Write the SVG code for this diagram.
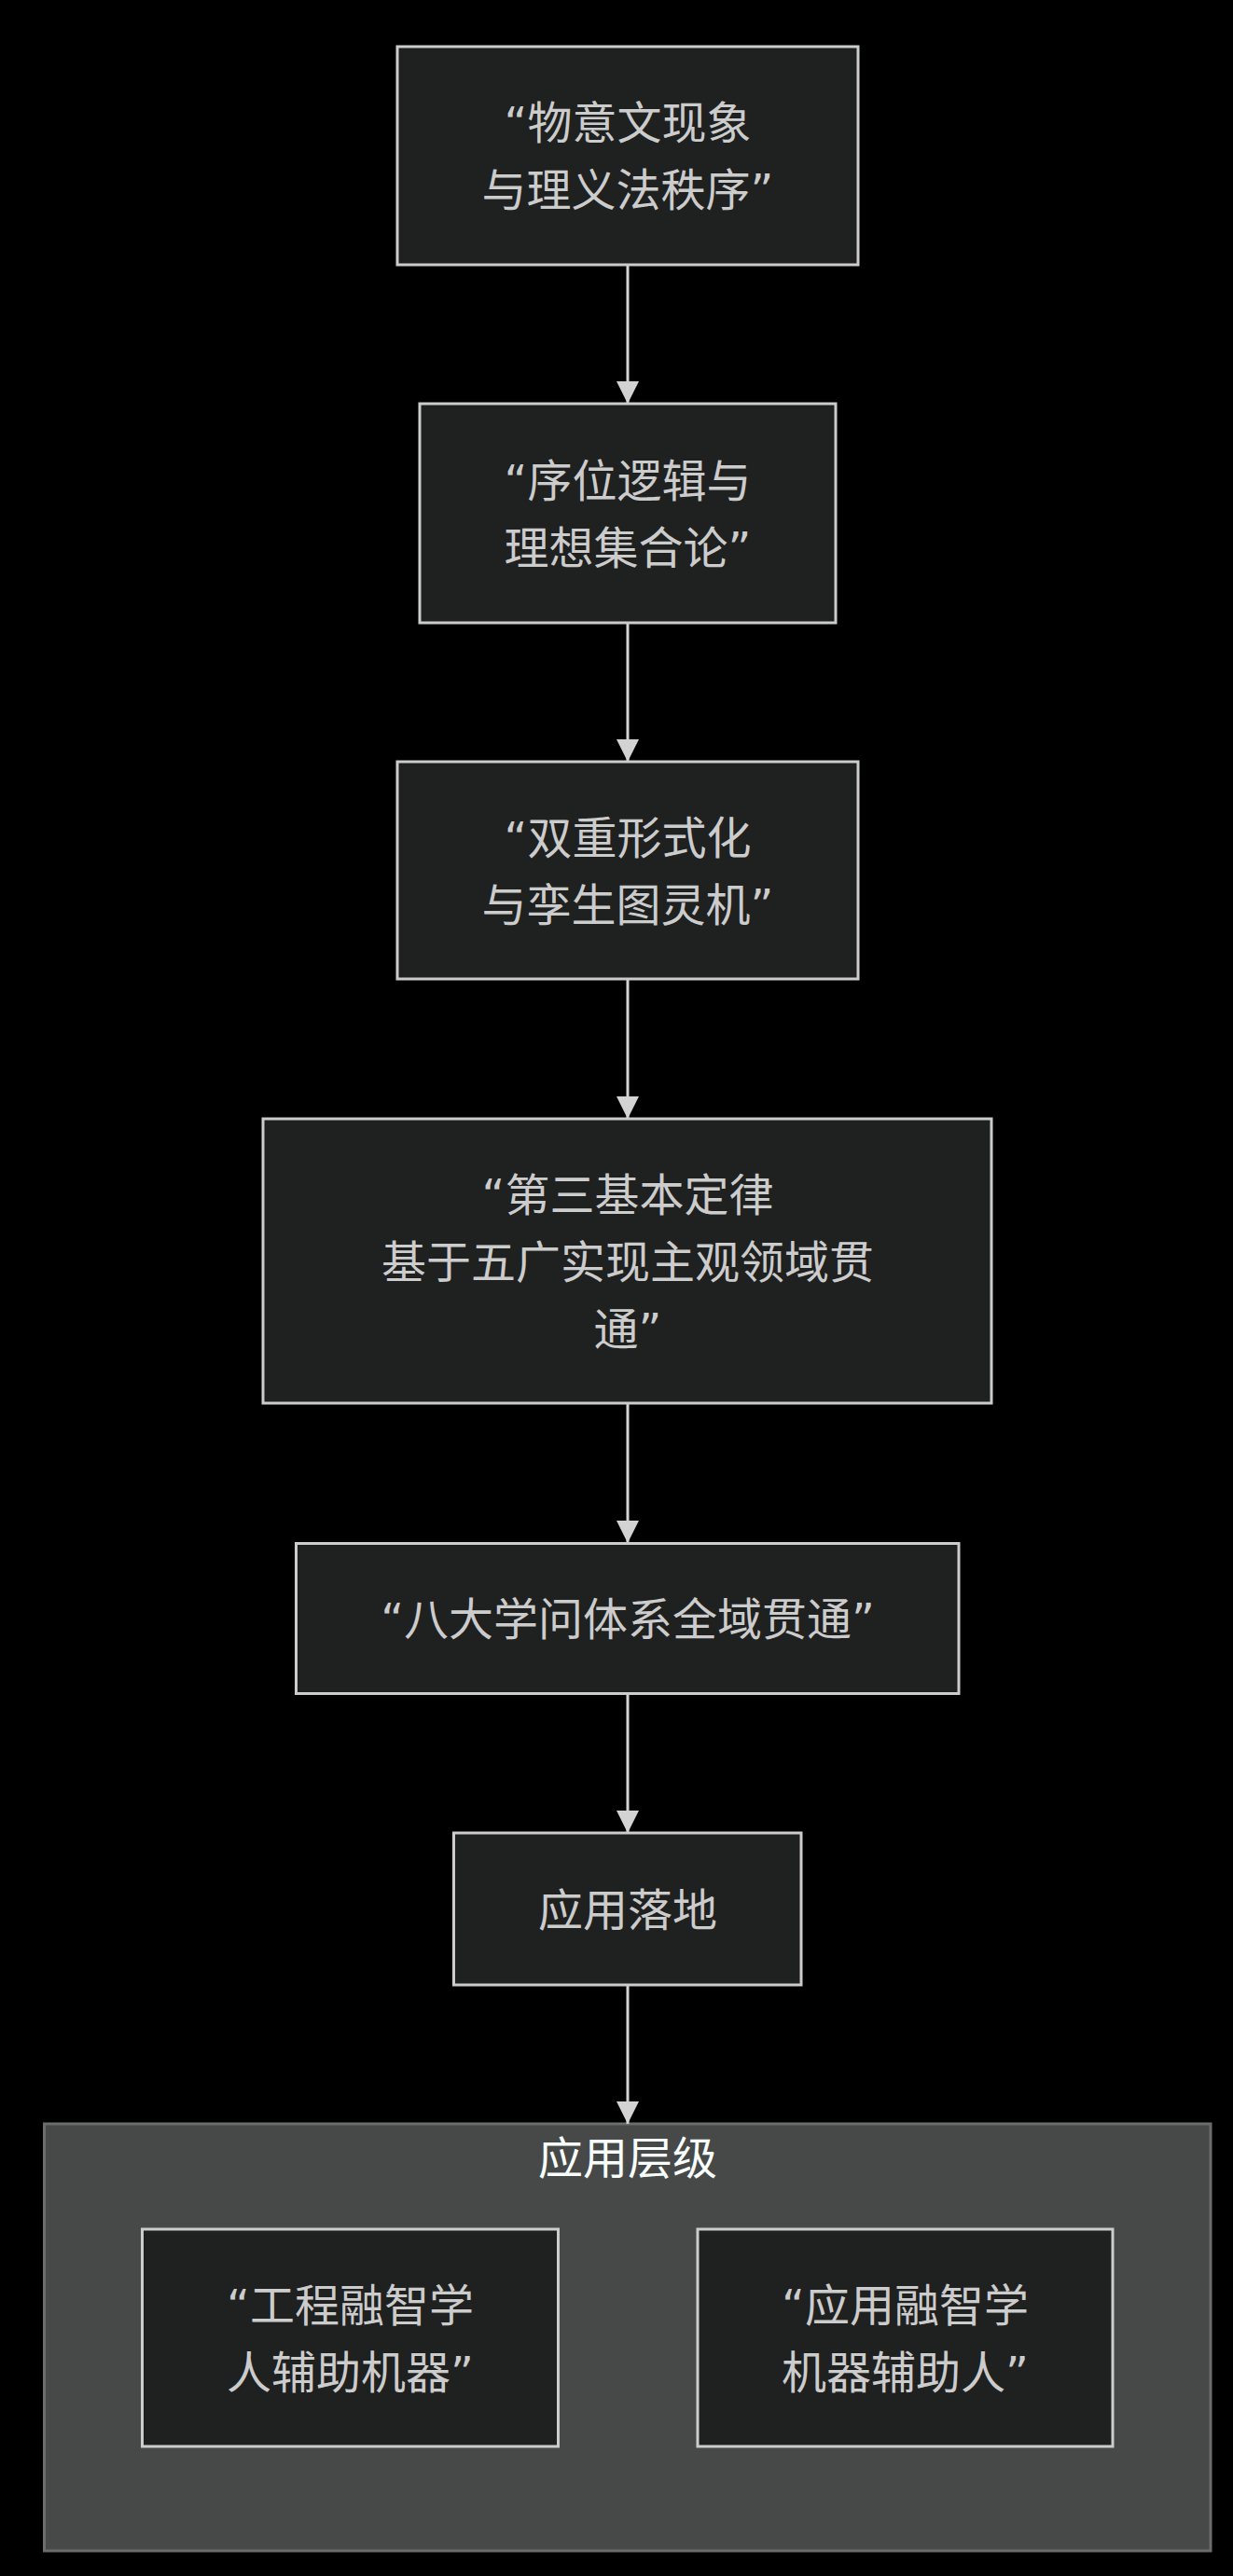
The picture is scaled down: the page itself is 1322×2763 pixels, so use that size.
<svg xmlns="http://www.w3.org/2000/svg" width="1322" height="2763" viewBox="0 0 1322 2763">
<style>
.node rect{fill:#1f2020;stroke:#cccccc;stroke-width:3}
.node text,.cl text{font-family:"DejaVu Sans","Noto Sans CJK SC","Noto Sans CJK JP",sans-serif;font-size:48px;text-anchor:middle}
.node text{fill:#cccccc}
.cl rect{fill:#474949;stroke:#6b6d6d;stroke-width:3}
.cl text{fill:#f9fffe}
.edge{stroke:#d3d3d3;stroke-width:3;fill:none;marker-end:url(#arrow)}
</style>
<defs>
<marker id="arrow" viewBox="0 0 10 10" refX="10" refY="5" markerUnits="userSpaceOnUse" markerWidth="24" markerHeight="24" orient="auto">
<path d="M0,0 L10,5 L0,10 z" fill="#d3d3d3"/>
</marker>
</defs>
<rect x="0" y="0" width="1322" height="2763" fill="#000000"/>
<g id="cluster-app" class="cl">
<rect x="47.5" y="2278" width="1250.5" height="458"/>
<text x="673" y="2332">应用层级</text>
</g>
<g id="connectors">
<line class="edge" x1="673" y1="284" x2="673" y2="433"/>
<line class="edge" x1="673" y1="668" x2="673" y2="817"/>
<line class="edge" x1="673" y1="1050" x2="673" y2="1200"/>
<line class="edge" x1="673" y1="1505" x2="673" y2="1655"/>
<line class="edge" x1="673" y1="1816" x2="673" y2="1966"/>
<line class="edge" x1="673" y1="2129" x2="673" y2="2278"/>
</g>
<g id="n1" class="node">
<rect x="426" y="50" width="494" height="234"/>
<text x="673" y="149">“物意文现象</text>
<text x="673" y="221">与理义法秩序”</text>
</g>
<g id="n2" class="node">
<rect x="450" y="433" width="446" height="235"/>
<text x="673" y="532.5">“序位逻辑与</text>
<text x="673" y="604.5">理想集合论”</text>
</g>
<g id="n3" class="node">
<rect x="426" y="817" width="494" height="233"/>
<text x="673" y="915.5">“双重形式化</text>
<text x="673" y="987.5">与孪生图灵机”</text>
</g>
<g id="n4" class="node">
<rect x="282" y="1200" width="781" height="305"/>
<text x="673" y="1298.5">“第三基本定律</text>
<text x="673" y="1370.5">基于五广实现主观领域贯</text>
<text x="673" y="1442.5">通”</text>
</g>
<g id="n5" class="node">
<rect x="317.5" y="1655.5" width="710.5" height="161"/>
<text x="673" y="1754">“八大学问体系全域贯通”</text>
</g>
<g id="n6" class="node">
<rect x="486.5" y="1966" width="372.5" height="163"/>
<text x="673" y="2065.5">应用落地</text>
</g>
<g id="n7" class="node">
<rect x="152.5" y="2391" width="446" height="233"/>
<text x="375.5" y="2489.5">“工程融智学</text>
<text x="375.5" y="2561.5">人辅助机器”</text>
</g>
<g id="n8" class="node">
<rect x="748" y="2391" width="445" height="233"/>
<text x="970.5" y="2489.5">“应用融智学</text>
<text x="970.5" y="2561.5">机器辅助人”</text>
</g>
</svg>
